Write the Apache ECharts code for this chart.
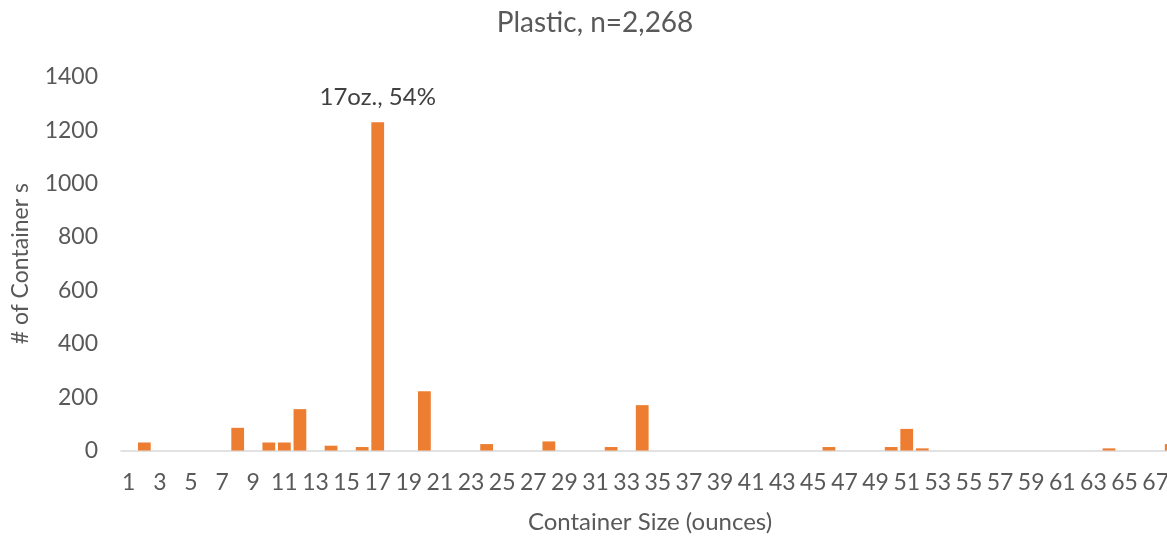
<!DOCTYPE html>
<html>
<head>
<meta charset="utf-8">
<script src="https://cdn.jsdelivr.net/npm/echarts@6/dist/echarts.min.js"></script>
<style>html,body{margin:0;padding:0;background:#fff;}#c{width:1167px;height:540px;}</style>
</head>
<body>
<div id="c"></div>
<script>
const titleText = "Plastic, n=2,268";
const xAxisName = "Container Size (ounces)";
const yAxisName = "# of Container s";
const sizes = [];
for (let i = 1; i <= 68; i++) sizes.push(String(i));
// counts by container size (ounces 1..68)
const counts = [
  0, 30, 0, 0, 0, 0, 0, 85, 0, 30,
  30, 155, 0, 18, 0, 13, 1230, 0, 0, 222,
  0, 0, 0, 24, 0, 0, 0, 34, 0, 0,
  0, 13, 0, 170, 0, 0, 0, 0, 0, 0,
  0, 0, 0, 0, 0, 13, 0, 0, 0, 13,
  81, 8, 0, 0, 0, 0, 0, 0, 0, 0,
  0, 0, 0, 8, 0, 0, 0, 24
];
const peakSize = "17";
const peakLabel = "17oz., 54%";
const yTicks = { min: 0, max: 1400, interval: 200 };

const FONT = "Lato";
const chart = echarts.init(document.getElementById('c'), null, { renderer: 'canvas' });
const seriesData = counts.map((v, i) => {
  if (sizes[i] === peakSize) {
    return {
      value: v,
      label: {
        show: true, position: 'top', distance: 13,
        formatter: peakLabel, color: '#404040',
        fontFamily: FONT, fontSize: 24
      }
    };
  }
  return v;
});
chart.setOption({
  animation: false,
  backgroundColor: '#ffffff',
  title: {
    text: titleText, left: 590, top: 4, textAlign: 'center',
    textStyle: { fontFamily: FONT, fontSize: 28, fontWeight: 'normal', color: '#595959' }
  },
  grid: { left: 121, right: -12, top: 77, bottom: 89.5, containLabel: false, outerBoundsMode: 'none' },
  xAxis: {
    type: 'category', data: sizes,
    name: xAxisName, nameLocation: 'middle', nameGap: 60,
    nameTextStyle: { fontFamily: FONT, fontSize: 24, color: '#595959' },
    axisLine: { lineStyle: { color: '#d9d9d9', width: 1.5 } },
    axisTick: { show: false },
    axisLabel: { interval: 1, margin: 21, fontFamily: FONT, fontSize: 23, color: '#595959' }
  },
  yAxis: {
    type: 'value', min: yTicks.min, max: yTicks.max, interval: yTicks.interval,
    name: yAxisName, nameLocation: 'middle', nameGap: 89, nameRotate: 90,
    nameTextStyle: { fontFamily: FONT, fontSize: 23, color: '#595959' },
    splitLine: { show: false },
    axisLine: { show: false }, axisTick: { show: false },
    axisLabel: { margin: 23, fontFamily: FONT, fontSize: 23, color: '#595959', formatter: v => String(v) }
  },
  series: [{
    type: 'bar', data: seriesData, barCategoryGap: '18%',
    itemStyle: { color: '#ED7D31' }
  }]
});
</script>
</body>
</html>
